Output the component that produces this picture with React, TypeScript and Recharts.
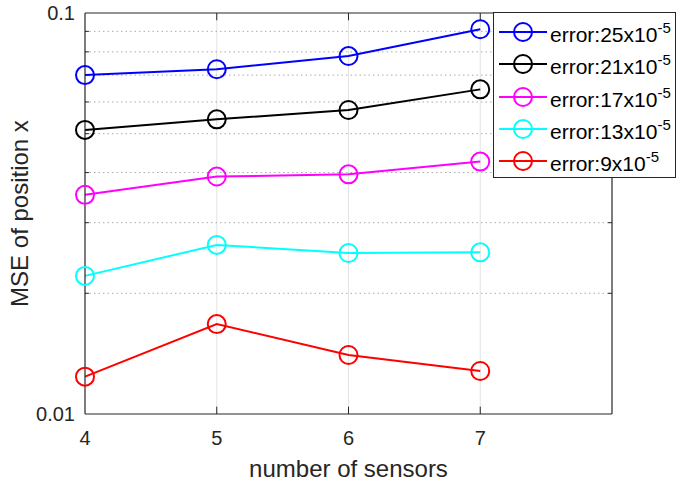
import React from 'react';
import { LineChart, Line, XAxis, YAxis, ReferenceLine, Label } from 'recharts';

const xValues = [4, 5, 6, 7];
const series25 = [0.07, 0.0724, 0.0781, 0.0911];
const series21 = [0.0511, 0.0543, 0.0573, 0.0645];
const series17 = [0.0352, 0.0391, 0.0396, 0.0426];
const series13 = [0.0221, 0.0264, 0.0252, 0.0253];
const series9 = [0.01239, 0.01676, 0.01403, 0.0128];

const seriesKeys = ['e25', 'e21', 'e17', 'e13', 'e9'];
const seriesValues = [series25, series21, series17, series13, series9];
const legendNumbers = ['25', '21', '17', '13', '9'];
const colors = ['#0000ff', '#000000', '#ff00ff', '#00ffff', '#ff0000'];

const xTicks = [4, 5, 6, 7];
const yTicks = [0.01, 0.1];
const yMinor = [0.02, 0.03, 0.04, 0.05, 0.06, 0.07, 0.08, 0.09];
const xGrid = [5, 6, 7];

const data = xValues.map((x, i) => {
  const row: any = { x };
  seriesKeys.forEach((k, s) => {
    row[k] = seriesValues[s][i];
  });
  return row;
});

const FONT = '"Liberation Sans", Arial, Helvetica, sans-serif';
const AX = '#262626';

const XLabel = (props: any) => {
  const vb = props.viewBox;
  return (
    <text x={vb.x + vb.width / 2} y={vb.y + 63} textAnchor="middle" fontSize={24} fill={AX} fontFamily={FONT}>
      number of sensors
    </text>
  );
};

const YLabel = (props: any) => {
  const vb = props.viewBox;
  const cy = vb.y + vb.height / 2;
  return (
    <text x={28} y={cy} textAnchor="middle" fontSize={24} fill={AX} fontFamily={FONT} transform={`rotate(-90, 28, ${cy})`}>
      MSE of position x
    </text>
  );
};

const LegendBox = () => {
  const rows = [20, 52, 85, 117, 149];
  return (
    <svg width={184} height={167} style={{ position: 'absolute', left: 493, top: 12 }}>
      <rect x={0.5} y={0.5} width={182} height={165} fill="#ffffff" stroke={AX} strokeWidth={1} />
      {legendNumbers.map((n, i) => (
        <g key={n}>
          <line x1={6} x2={54} y1={rows[i]} y2={rows[i]} stroke={colors[i]} strokeWidth={2} />
          <circle cx={30} cy={rows[i]} r={9} fill="none" stroke={colors[i]} strokeWidth={2} />
          <text x={57} y={rows[i] + 10} fontSize={21} fill="#000" fontFamily={FONT}>
            {`error:${n}x10`}
            <tspan dy={-9} fontSize={15}>-5</tspan>
          </text>
        </g>
      ))}
    </svg>
  );
};

export default function App() {
  return (
    <div style={{ position: 'absolute', left: 0, top: 0, width: 682, height: 485, background: '#fff' }}>
      <style>{`body{margin:0;}`}</style>
      <LineChart width={682} height={485} data={data} margin={{ top: 13, right: 70, bottom: 11, left: 25 }}>
        {xGrid.map((g) => (
          <ReferenceLine key={'vg' + g} x={g} stroke="#e3e3e3" strokeWidth={1} />
        ))}
        {yMinor.map((m) => (
          <ReferenceLine key={'hg' + m} y={m} stroke="#aaaaaa" strokeWidth={1} strokeDasharray="1.5 3" />
        ))}
        {yMinor.map((m) => (
          <ReferenceLine key={'tl' + m} segment={[{ x: 4, y: m }, { x: 4.03, y: m }]} stroke={AX} strokeWidth={1} />
        ))}
        {yMinor.map((m) => (
          <ReferenceLine key={'tr' + m} segment={[{ x: 7.97, y: m }, { x: 8, y: m }]} stroke={AX} strokeWidth={1} />
        ))}
        {xGrid.map((g) => (
          <ReferenceLine key={'tb' + g} segment={[{ x: g, y: 0.01 }, { x: g, y: 0.01043 }]} stroke={AX} strokeWidth={1} />
        ))}
        {xGrid.map((g) => (
          <ReferenceLine key={'tt' + g} segment={[{ x: g, y: 0.0959 }, { x: g, y: 0.1 }]} stroke={AX} strokeWidth={1} />
        ))}
        <ReferenceLine y={0.1} stroke={AX} strokeWidth={1.2} />
        <ReferenceLine x={8} stroke={AX} strokeWidth={1.2} />
        <XAxis
          dataKey="x"
          type="number"
          domain={[4, 8]}
          ticks={xTicks}
          height={60}
          tickSize={0}
          tickMargin={17}
          tickLine={false}
          axisLine={{ stroke: AX, strokeWidth: 1.2 }}
          tick={{ fill: AX, fontSize: 20, fontFamily: FONT }}
        >
          <Label content={<XLabel />} />
        </XAxis>
        <YAxis
          scale="log"
          type="number"
          domain={[0.01, 0.1]}
          ticks={yTicks}
          width={60}
          tickSize={0}
          tickMargin={10}
          tickLine={false}
          axisLine={{ stroke: AX, strokeWidth: 1.2 }}
          tick={{ fill: AX, fontSize: 20, fontFamily: FONT }}
          tickFormatter={(v: number) => (v >= 0.1 ? '0.1' : '0.01')}
        >
          <Label content={<YLabel />} />
        </YAxis>
        {seriesKeys.map((k, i) => (
          <Line
            key={k}
            dataKey={k}
            stroke={colors[i]}
            strokeWidth={2}
            dot={{ r: 9, fill: 'none', stroke: colors[i], strokeWidth: 2, clipDot: false } as any}
            activeDot={false}
            isAnimationActive={false}
          />
        ))}
      </LineChart>
      <LegendBox />
    </div>
  );
}
